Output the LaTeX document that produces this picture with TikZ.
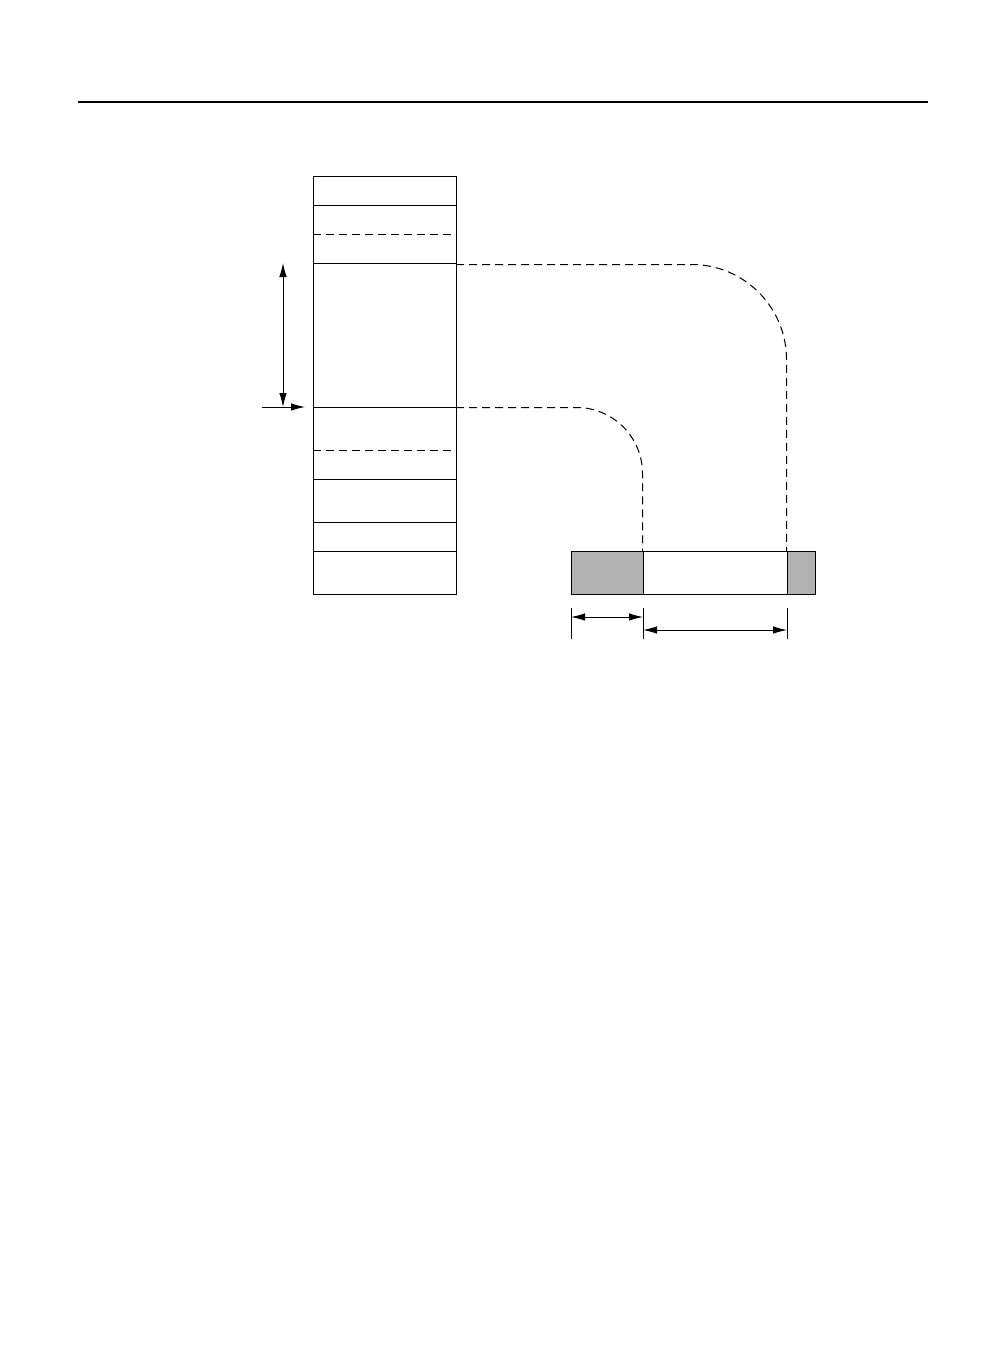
\documentclass[tikz,border=0pt]{standalone}
\usetikzlibrary{arrows.meta}
\begin{document}
\begin{tikzpicture}[x=1pt,y=-1pt,
  thin line/.style={line width=0.9pt,black},
  dashline/.style={line width=0.9pt,black,dash pattern=on 8pt off 5pt},
  conn/.style={line width=1pt,black,dash pattern=on 8pt off 5pt},
  arr/.style={line width=0.9pt,-{Latex[length=14pt,width=7.5pt]}},
  darr/.style={line width=0.9pt,{Latex[length=14pt,width=7.5pt]}-{Latex[length=14pt,width=7.5pt]}},
  grayfill/.style={fill=black!30,draw=black,line width=0.9pt}]
\useasboundingbox (0,0) rectangle (1005,1356);
% header rule
\draw[line width=1.6pt] (78,102) -- (928,102);
% column
\coordinate (cTL) at (313,176);
\coordinate (cBR) at (456,594);
\draw[thin line] (cTL) rectangle (cBR);
\foreach \y in {205,263,407,479,522,551}{\draw[thin line] (313,\y) -- (456,\y);}
\foreach \y in {234,450}{\draw[dashline] (313,\y) -- (457,\y);}
% arrows at left
\coordinate (vTop) at (283,263);
\coordinate (vBot) at (283,407);
\draw[darr] (vTop) -- (vBot);
\coordinate (hS) at (262,407);
\coordinate (hE) at (305,407);
\draw[arr] (hS) -- (hE);
% bar
\draw[grayfill] (571,551) rectangle (643,594);
\draw[thin line] (643,551) rectangle (787,594);
\draw[grayfill] (787,551) rectangle (815,594);
% connectors
\coordinate (a1) at (456,264.5);
\coordinate (a2) at (786.5,551);
\draw[conn] (a1) -- (691.5,264.5) arc[start angle=-90,end angle=0,radius=95] -- (a2);
\coordinate (b1) at (456,407.5);
\coordinate (b2) at (642.5,551);
\draw[conn] (b1) -- (576.5,407.5) arc[start angle=-90,end angle=0,radius=66] -- (b2);
% dimension ticks
\foreach \x in {571,643,787}{\draw[thin line] (\x,608) -- (\x,639);}
\coordinate (d1a) at (571,617);
\coordinate (d1b) at (643,617);
\draw[darr] (d1a) -- (d1b);
\coordinate (d2a) at (643,630);
\coordinate (d2b) at (787,630);
\draw[darr] (d2a) -- (d2b);
\end{tikzpicture}
\end{document}
